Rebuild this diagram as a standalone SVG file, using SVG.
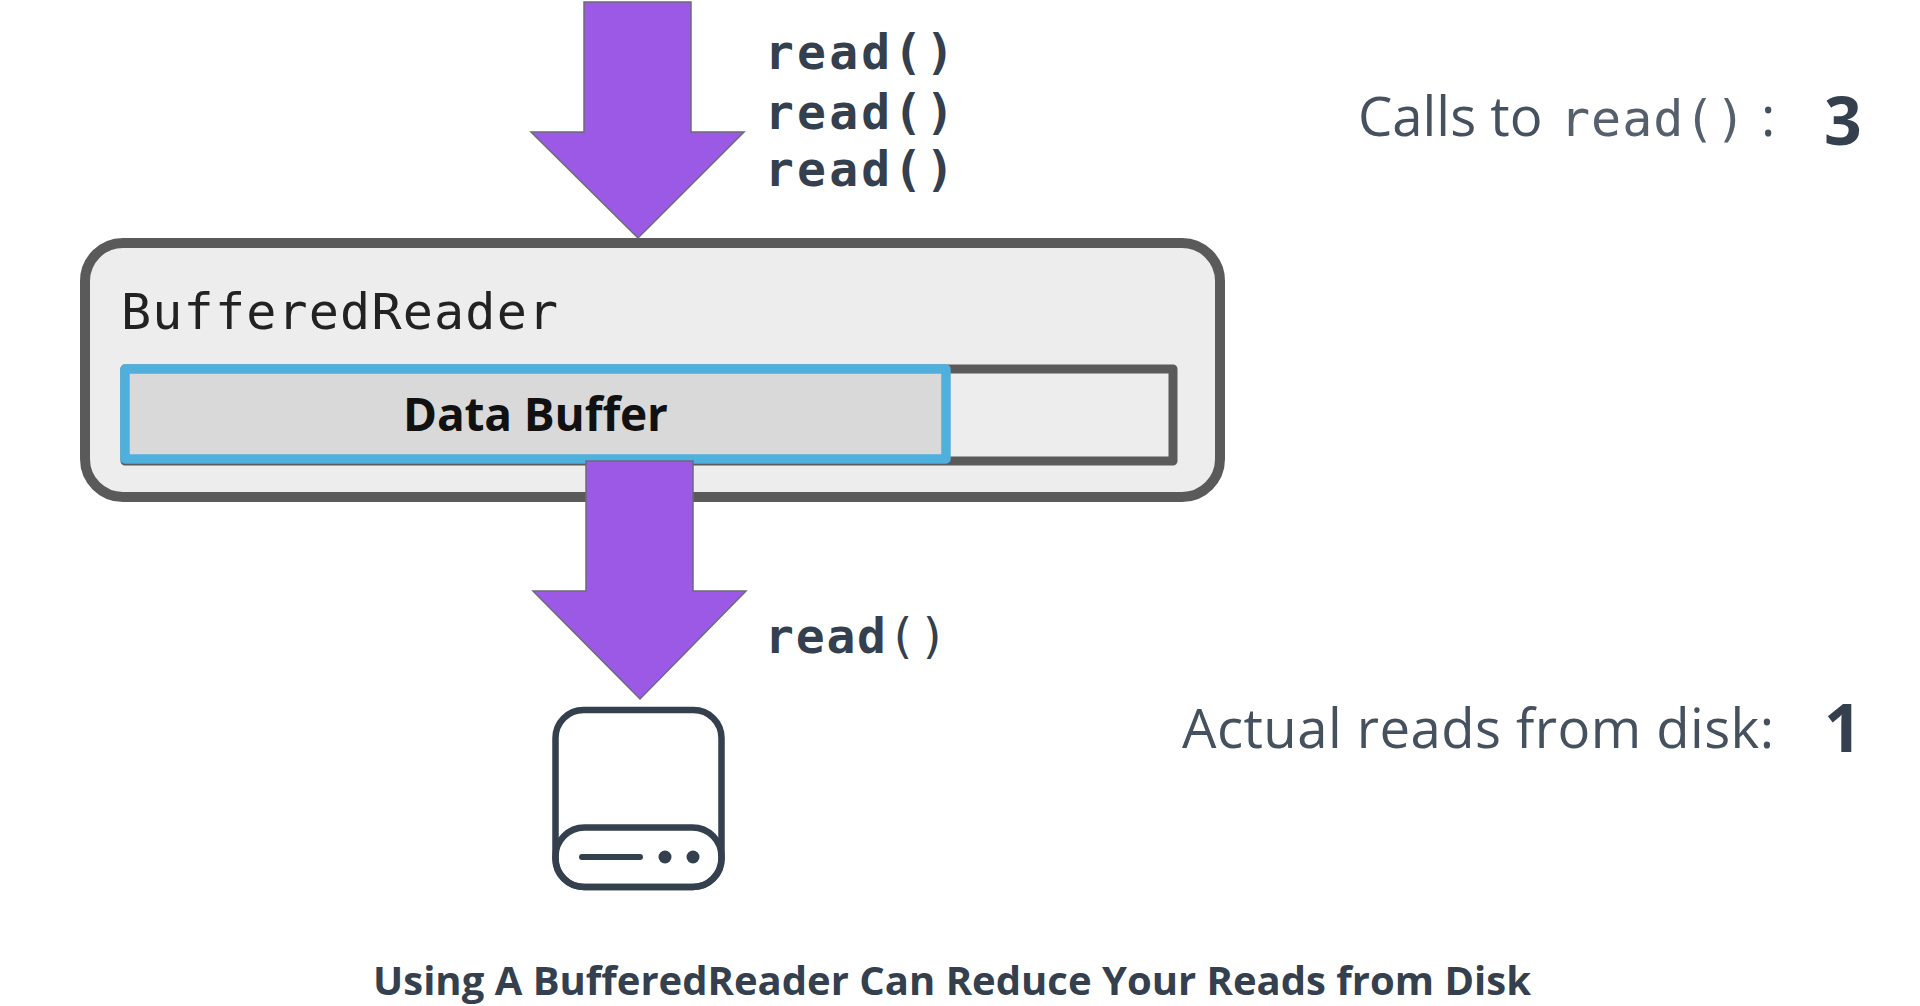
<svg xmlns="http://www.w3.org/2000/svg" width="1920" height="1006" viewBox="0 0 1920 1006">
<style>
.sans{font-family:"Open Sans","Noto Sans",sans-serif}
.mono{font-family:"DejaVu Sans Mono","Liberation Mono",monospace}
.ink{fill:#34404e}
.call{font-size:48px;font-weight:700}
.stat{font-size:54.500px;font-weight:400;fill:#45515e}
.num{font-size:66px;font-weight:700}
.arrow{fill:#9c59e6;stroke:#6b6b7b;stroke-width:1.5}
.disk{fill:none;stroke:#34404e;stroke-width:6.500}
</style>
<rect width="1920" height="1006" fill="#ffffff"/>
<g id="buffered-reader">
<rect x="85" y="243" width="1135" height="254" rx="38" fill="#ededed" stroke="#5a5a5a" stroke-width="10"/>
<text class="mono" x="121" y="329" font-size="50" letter-spacing="1.200" fill="#222222">BufferedReader</text>
</g>
<g id="buffer-capacity">
<rect x="125" y="369" width="1048" height="92" fill="none" stroke="#5a5a5a" stroke-width="9" stroke-linejoin="round"/>
</g>
<g id="data-buffer">
<rect x="125" y="369" width="821" height="90" fill="#d9d9d9" stroke="#4fb0de" stroke-width="9.500" stroke-linejoin="round"/>
<text class="sans" x="403" y="431" font-size="46" font-weight="700" fill="#111111" textLength="265" lengthAdjust="spacing">Data Buffer</text>
</g>
<g id="connectors">
<polygon class="arrow" points="584,2 691,2 691,132 744,132 638,238 531,132 584,132"/>
<polygon class="arrow" points="586,461 693,461 693,591 746,591 640,699 533,591 586,591"/>
</g>
<g id="disk">
<rect class="disk" x="555.500" y="710" width="166" height="177" rx="28"/>
<rect class="disk" x="555.500" y="827.500" width="166" height="59.500" rx="29"/>
<line x1="582" y1="857" x2="640" y2="857" stroke="#34404e" stroke-width="6" stroke-linecap="round"/>
<circle cx="665" cy="857" r="6.500" fill="#34404e"/>
<circle cx="693" cy="857" r="6.500" fill="#34404e"/>
</g>
<g id="read-calls">
<text class="mono ink call" x="765" y="69" letter-spacing="3.200">read()</text>
<text class="mono ink call" x="765" y="129" letter-spacing="3.200">read()</text>
<text class="mono ink call" x="765" y="186" letter-spacing="3.200">read()</text>
</g>
<g id="disk-read">
<text class="mono ink call" x="765" y="653" letter-spacing="1.800">read<tspan font-weight="400">()</tspan></text>
</g>
<g id="stats">
<text class="sans stat" x="1358" y="136">Calls to</text>
<text class="mono" x="1560" y="136" font-size="50" letter-spacing="1" fill="#55606c">read()</text>
<text class="sans stat" x="1761" y="136">:</text>
<text class="sans ink num" x="1824" y="145">3</text>
<text class="sans stat" x="1182" y="748" textLength="592" lengthAdjust="spacing">Actual reads from disk:</text>
<text class="sans ink num" x="1824" y="752">1</text>
</g>
<g id="caption">
<text class="sans ink" x="373" y="995" font-size="40" font-weight="700" textLength="1158" lengthAdjust="spacing">Using A BufferedReader Can Reduce Your Reads from Disk</text>
</g>
</svg>
